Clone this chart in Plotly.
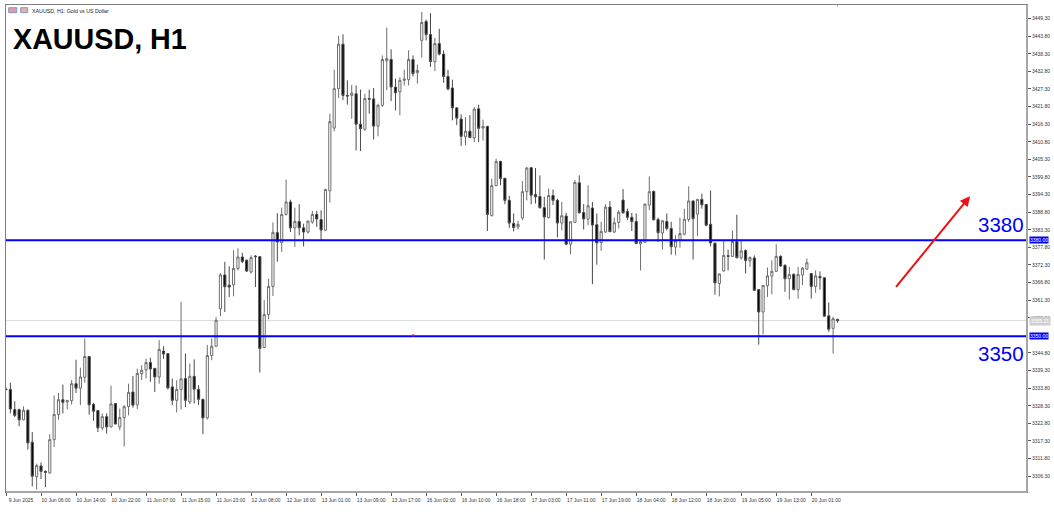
import plotly.graph_objects as go

open_ = [
    3333.5,3333.4,3327.1,3327.1,3323.9,3326.9,3316.9,3306.1,3309.5,3307.8,
    3307.3,3317.7,3325.6,3330.2,3329.5,3329.9,3335.2,3333.8,3337.2,3343.7,
    3328.7,3326.8,3321.4,3324.9,3321.7,3329.0,3321.7,3324.6,3328.1,3332.6,
    3328.6,3338.3,3339.5,3341.8,3340.0,3337.3,3345.4,3344.6,3334.2,3330.0,
    3333.4,3336.8,3329.5,3337.5,3333.4,3330.3,3324.5,3344.0,3346.9,3358.6,
    3369.2,3366.0,3366.1,3371.2,3374.8,3373.8,3370.1,3375.1,3374.9,3346.5,
    3356.8,3365.6,3382.4,3379.3,3388.1,3392.0,3383.9,3385.9,3383.9,3382.6,
    3385.7,3388.1,3386.5,3383.2,3395.5,3415.1,3427.4,3441.3,3425.3,3425.3,
    3425.8,3416.3,3414.7,3424.3,3424.2,3415.7,3422.2,3436.1,3436.5,3427.9,
    3426.4,3430.0,3430.2,3436.5,3432.4,3442.5,3448.4,3444.3,3435.8,3441.5,
    3438.2,3431.2,3427.6,3421.4,3417.9,3412.4,3414.1,3412.0,3421.1,3415.1,
    3415.6,3387.7,3397.1,3404.7,3399.4,3392.5,3385.3,3384.2,3387.0,3395.2,
    3402.7,3394.3,3393.7,3390.2,3387.1,3394.0,3392.5,3385.4,3387.6,3378.8,
    3385.6,3398.0,3388.7,3386.6,3390.1,3384.9,3379.3,3382.6,3390.4,3382.6,
    3385.6,3392.6,3389.0,3387.2,3385.9,3378.9,3379.4,3391.0,3395.3,3386.5,
    3382.3,3385.9,3383.7,3377.9,3380.0,3381.9,3386.5,3392.3,3388.2,3392.8,
    3391.2,3385.0,3379.1,3366.5,3370.4,3375.2,3375.0,3379.7,3374.5,3376.8,
    3373.6,3374.5,3364.6,3357.6,3365.8,3368.8,3370.3,3375.0,3372.2,3368.0,
    3369.4,3364.6,3369.2,3371.0,3369.6,3365.6,3368.7,3368.3,3356.4,3352.5,3355.3,
]
high = [
    3334.0,3335.5,3329.7,3327.4,3328.1,3327.1,3320.1,3310.2,3310.6,3308.1,
    3319.4,3331.5,3332.3,3334.9,3330.2,3336.3,3342.7,3340.2,3349.3,3343.8,
    3329.2,3326.9,3325.9,3325.9,3334.6,3329.1,3327.4,3328.5,3335.2,3337.6,
    3339.9,3341.0,3343.0,3343.3,3340.1,3348.8,3346.9,3344.8,3336.8,3336.3,
    3360.8,3344.6,3341.5,3342.8,3334.7,3330.5,3347.3,3349.3,3356.0,3369.8,
    3373.3,3371.9,3376.9,3377.5,3376.1,3374.0,3375.3,3375.4,3375.1,3361.3,
    3368.0,3385.6,3388.5,3390.2,3399.0,3392.7,3390.2,3391.3,3385.2,3386.2,
    3389.2,3389.2,3389.4,3396.1,3419.6,3433.3,3443.9,3444.4,3430.0,3428.6,
    3428.4,3427.1,3425.8,3427.1,3427.6,3422.7,3437.8,3446.5,3439.7,3430.5,
    3431.0,3433.3,3439.4,3437.8,3434.9,3451.4,3449.0,3451.0,3443.3,3446.1,
    3439.4,3433.3,3430.2,3421.5,3419.4,3418.5,3419.1,3421.7,3422.4,3417.7,
    3415.8,3399.3,3405.5,3404.8,3399.5,3393.9,3388.4,3386.1,3398.5,3402.9,
    3402.9,3402.6,3400.3,3393.6,3396.2,3395.9,3393.0,3392.0,3388.6,3385.9,
    3398.8,3400.3,3391.3,3397.2,3392.0,3388.4,3385.8,3391.3,3392.3,3387.1,
    3389.4,3396.0,3389.9,3388.6,3388.4,3380.0,3391.5,3400.0,3395.6,3387.1,
    3386.3,3388.4,3385.8,3381.6,3387.1,3389.9,3396.9,3392.5,3392.8,3394.6,
    3391.3,3395.6,3379.3,3369.6,3380.0,3377.1,3383.1,3388.0,3380.0,3377.2,
    3375.0,3375.3,3364.7,3366.0,3371.5,3373.8,3378.8,3375.3,3372.5,3371.7,
    3369.6,3371.7,3371.7,3374.3,3369.8,3370.6,3370.3,3368.4,3360.6,3356.1,3355.5,
]
low = [
    3333.1,3325.9,3324.8,3321.9,3323.8,3314.6,3303.1,3302.1,3305.4,3302.9,
    3307.1,3315.4,3324.0,3325.9,3327.2,3328.7,3332.3,3328.5,3335.5,3325.5,
    3323.6,3320.1,3320.6,3319.6,3321.5,3322.5,3320.6,3315.6,3325.3,3327.7,
    3327.3,3336.3,3336.8,3335.8,3332.6,3335.2,3343.0,3333.4,3328.5,3326.2,
    3327.1,3327.9,3328.8,3329.0,3328.5,3319.4,3324.0,3342.5,3346.7,3356.3,
    3357.6,3362.3,3362.5,3370.6,3372.9,3370.1,3369.6,3365.4,3338.7,3346.4,
    3355.3,3362.6,3373.3,3376.4,3387.8,3382.6,3377.9,3381.6,3378.1,3382.1,
    3385.2,3384.2,3380.2,3382.9,3391.8,3414.1,3424.5,3423.8,3422.4,3418.0,
    3408.1,3407.9,3414.2,3419.6,3411.5,3412.5,3421.7,3426.9,3423.5,3420.6,
    3419.1,3428.4,3428.4,3431.2,3429.0,3437.1,3442.5,3434.2,3432.9,3437.8,
    3429.2,3426.9,3417.5,3416.0,3409.5,3409.7,3412.0,3410.7,3410.7,3411.2,
    3382.9,3387.5,3396.9,3397.2,3391.3,3383.9,3382.8,3383.4,3386.3,3392.5,
    3391.3,3391.5,3389.9,3374.0,3386.8,3391.0,3380.9,3383.1,3378.5,3375.6,
    3385.4,3388.4,3383.4,3384.7,3366.3,3372.4,3376.7,3382.3,3382.6,3382.3,
    3383.7,3388.4,3386.3,3382.9,3378.8,3370.6,3379.2,3389.4,3386.3,3379.5,
    3377.1,3383.1,3375.5,3375.3,3377.7,3381.6,3385.8,3374.0,3381.4,3389.9,
    3384.4,3378.1,3363.0,3362.5,3370.3,3370.6,3374.8,3374.3,3374.0,3369.6,
    3371.7,3364.2,3347.4,3350.6,3362.3,3363.1,3370.1,3371.7,3363.9,3361.5,
    3364.4,3361.8,3366.0,3370.9,3361.8,3363.6,3364.6,3356.1,3351.4,3344.6,3354.2,
]
close = [
    3333.4,3327.3,3325.3,3323.9,3326.9,3316.7,3306.3,3309.6,3307.8,3307.5,
    3317.7,3325.6,3330.2,3329.4,3329.9,3335.2,3333.8,3337.3,3343.7,3328.6,
    3326.6,3321.4,3324.9,3321.7,3328.9,3322.6,3324.6,3328.0,3332.5,3328.5,
    3338.4,3339.4,3341.8,3339.8,3337.3,3345.9,3344.5,3333.9,3330.0,3333.4,
    3336.7,3330.0,3337.5,3333.5,3330.3,3324.5,3344.0,3346.9,3355.0,3369.2,
    3365.5,3365.4,3371.2,3374.8,3373.4,3370.4,3374.6,3374.9,3346.2,3356.8,
    3365.6,3382.5,3379.5,3388.1,3392.0,3383.9,3385.9,3383.9,3382.6,3386.0,
    3388.1,3386.7,3383.2,3395.9,3417.1,3427.4,3441.3,3425.3,3425.1,3426.0,
    3416.3,3414.9,3424.3,3424.1,3415.7,3422.2,3436.5,3436.8,3427.9,3426.1,
    3430.0,3430.4,3436.5,3432.1,3433.1,3448.1,3444.3,3435.9,3441.5,3438.2,
    3431.2,3427.3,3421.4,3418.2,3412.5,3414.1,3412.1,3421.0,3415.0,3415.6,
    3388.1,3397.1,3404.6,3399.3,3392.5,3385.4,3384.0,3385.0,3395.2,3402.6,
    3394.1,3393.6,3390.2,3387.3,3394.0,3392.5,3385.4,3387.7,3378.8,3385.8,
    3398.1,3388.6,3386.7,3390.8,3384.8,3379.2,3382.8,3390.4,3382.7,3385.5,
    3388.8,3388.6,3387.2,3385.9,3379.0,3379.6,3391.3,3395.2,3386.4,3382.4,
    3386.1,3383.7,3378.0,3379.8,3382.1,3386.6,3392.3,3386.8,3392.8,3391.1,
    3384.7,3379.2,3366.7,3369.5,3375.3,3375.0,3379.6,3374.6,3376.7,3373.7,
    3374.6,3364.4,3357.6,3365.9,3368.9,3370.3,3375.0,3372.0,3368.0,3369.3,
    3364.6,3369.3,3371.3,3373.0,3365.6,3368.9,3368.3,3356.3,3352.2,3355.5,3354.9,
]
assert len(open_) == len(high) == len(low) == len(close) == 191

bars = list(range(len(open_)))

x_tick_labels = [
    "9 Jun 2025", "10 Jun 06:00", "10 Jun 14:00", "10 Jun 22:00", "11 Jun 07:00", "11 Jun 15:00",
    "11 Jun 23:00", "12 Jun 08:00", "12 Jun 16:00", "13 Jun 01:00", "13 Jun 09:00", "13 Jun 17:00",
    "16 Jun 02:00", "16 Jun 10:00", "16 Jun 18:00", "17 Jun 03:00", "17 Jun 11:00", "17 Jun 19:00",
    "18 Jun 04:00", "18 Jun 12:00", "18 Jun 20:00", "19 Jun 05:00", "19 Jun 13:00", "20 Jun 01:00",
]
x_tick_vals = [i * 8 for i in range(len(x_tick_labels))]

y_tick_vals = [
    3449.30, 3443.80, 3438.30, 3432.80, 3427.30, 3421.80, 3416.30, 3410.80, 3405.30,
    3399.80, 3394.30, 3388.80, 3383.30, 3377.80, 3372.30, 3366.80, 3361.30, 3355.80,
    3344.80, 3339.30, 3333.80, 3328.30, 3322.80, 3317.30, 3311.80, 3306.30,
]

level_high = 3380.0
level_low = 3350.0
last_price = 3354.9
W, H = 1054, 520
L, R, T, B = 6.3, 1027.0, 5.3, 492.5
BLUE = "#0000ff"


def px(x):
    return (x - L) / (R - L)


def py(y):
    return (B - y) / (B - T)


fig = go.Figure(go.Candlestick(
    x=bars, open=open_, high=high, low=low, close=close,
    increasing=dict(line=dict(color="#6e6e6e", width=1), fillcolor="#ffffff"),
    decreasing=dict(line=dict(color="#4a4a4a", width=1), fillcolor="#000000"),
    whiskerwidth=0,
    showlegend=False,
))

shapes = [
    dict(type="line", xref="paper", x0=0, x1=1, yref="y", y0=last_price, y1=last_price,
         line=dict(color="#d9d9d9", width=1), layer="below"),
    dict(type="line", xref="paper", x0=0, x1=1, yref="y", y0=level_high, y1=level_high,
         line=dict(color=BLUE, width=2)),
    dict(type="line", xref="paper", x0=0, x1=1, yref="y", y0=level_low, y1=level_low,
         line=dict(color=BLUE, width=2)),
    # thicker right and bottom frame
    dict(type="line", xref="paper", yref="paper", x0=1, x1=1, y0=0, y1=1, line=dict(color="#a6a6a6", width=2)),
    dict(type="line", xref="paper", yref="paper", x0=0, x1=1, y0=0, y1=0, line=dict(color="#a6a6a6", width=2)),
    # terminal icons in the header
    dict(type="rect", xref="paper", yref="paper", x0=px(9), x1=px(17), y0=py(13), y1=py(8),
         fillcolor="#e89a9a", line=dict(color="#7a9ad0", width=1)),
    dict(type="rect", xref="paper", yref="paper", x0=px(21), x1=px(28), y0=py(13), y1=py(8),
         fillcolor="#e8b0a0", line=dict(color="#7a9ad0", width=1)),
    # small red mark on the lower level
    dict(type="line", xref="x", yref="y", x0=92.8, x1=93.3, y0=level_low + 0.3, y1=level_low + 0.3,
         line=dict(color="#e02020", width=2)),
    # small grey mark under the top edge
    dict(type="line", xref="x", yref="paper", x0=190, x1=190, y0=py(7), y1=1,
         line=dict(color="#b0b0b0", width=1)),
]

ann = [
    dict(xref="paper", yref="paper", x=px(11), y=py(39), text="<b>XAUUSD, H1</b>", showarrow=False,
         xanchor="left", yanchor="middle", font=dict(family="Liberation Sans", size=28.7, color="#000000")),
    dict(xref="paper", yref="paper", x=px(30), y=py(11), text="XAUUSD, H1: Gold vs US Dollar", showarrow=False,
         xanchor="left", yanchor="middle", font=dict(family="Liberation Sans", size=5.3, color="#222222")),
    dict(xref="paper", yref="paper", x=px(1026), y=py(225), text="3380", showarrow=False,
         xanchor="right", yanchor="middle", font=dict(family="Liberation Sans", size=20.5, color=BLUE)),
    dict(xref="paper", yref="paper", x=px(1026), y=py(354), text="3350", showarrow=False,
         xanchor="right", yanchor="middle", font=dict(family="Liberation Sans", size=20.5, color=BLUE)),
    dict(xref="paper", yref="y", x=px(1029), y=level_high, text="3380.00", showarrow=False, xanchor="left",
         yanchor="middle", bgcolor=BLUE, borderpad=0, font=dict(family="Liberation Sans", size=5, color="#ffffff")),
    dict(xref="paper", yref="y", x=px(1029), y=level_low, text="3350.00", showarrow=False, xanchor="left",
         yanchor="middle", bgcolor=BLUE, borderpad=0, font=dict(family="Liberation Sans", size=5, color="#ffffff")),
    dict(xref="paper", yref="y", x=px(1029), y=last_price, text="3355.21", showarrow=False, xanchor="left",
         yanchor="middle", bgcolor="#cfcfcf", borderpad=1, font=dict(family="Liberation Sans", size=5, color="#ffffff")),
    dict(xref="x", yref="y", axref="x", ayref="y", x=220.3, y=3393.8, ax=203.1, ay=3365.0, text="",
         showarrow=True, arrowhead=2, arrowsize=1, arrowwidth=2, arrowcolor="#f01010"),
]

fig.update_layout(
    width=W, height=H, autosize=False,
    margin=dict(l=L, r=W - R, t=T, b=H - B, pad=0),
    paper_bgcolor="#ffffff", plot_bgcolor="#ffffff",
    shapes=shapes, annotations=ann, showlegend=False,
    font=dict(family="Liberation Sans", size=5, color="#333333"),
    xaxis=dict(
        automargin=False,
        range=[0, (R - L) / 4.375], showgrid=False, zeroline=False, rangeslider=dict(visible=False),
        tickmode="array", tickvals=x_tick_vals, ticktext=x_tick_labels, tickangle=0,
        ticks="outside", ticklen=3, tickwidth=1, tickcolor="#555555",
        tickfont=dict(family="Liberation Sans", size=5, color="#333333"),
        ticklabelshift=15, ticklabelstandoff=0,
        showline=True, linecolor="#808080", linewidth=1, mirror=True,
    ),
    yaxis=dict(
        automargin=False,
        range=[3301.35, 3453.55], side="right", showgrid=False, zeroline=False,
        tickmode="array", tickvals=y_tick_vals, ticktext=[f"{v:.2f}" for v in y_tick_vals],
        ticks="outside", ticklen=3, tickwidth=1, tickcolor="#555555",
        tickfont=dict(family="Liberation Sans", size=5, color="#333333"),
        showline=True, linecolor="#808080", linewidth=1, mirror=True,
    ),
)

fig.write_html("out.html", config=dict(displayModeBar=False),
               post_script="document.body.style.margin='0';document.body.style.overflow='hidden';")
